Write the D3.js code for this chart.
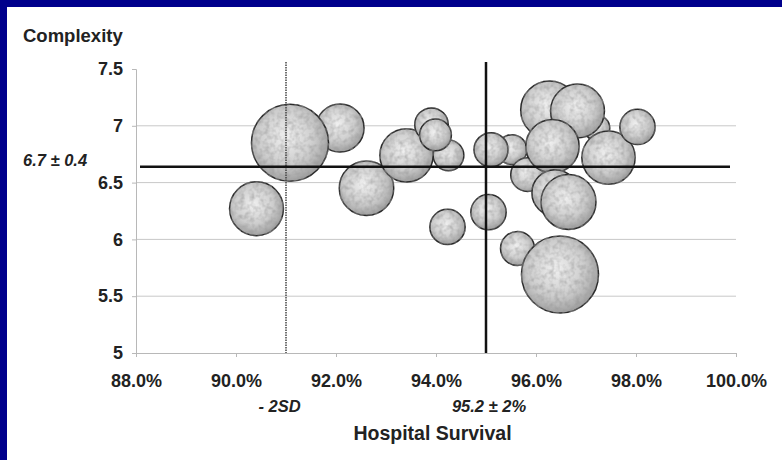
<!DOCTYPE html>
<html lang="en">

<head>
    <meta charset="UTF-8" />
    <title>Complexity vs Hospital Survival</title>
    <script src="https://d3js.org/d3.v7.min.js"></script>
    <style>
        body {
            margin: 0;
            background: #fff;
        }

        svg text {
            font-family: "Liberation Sans", Arial, sans-serif;
            font-weight: bold;
            fill: #222;
        }
    </style>
</head>

<body>

    <script>

        // data (back-to-front drawing order)
        var survival = [92.08, 91.08, 90.41, 92.61, 94.25, 93.41, 93.91, 93.99, 94.23, 95.52, 95.10, 95.05,
            95.63, 96.48, 95.83, 96.27, 97.22, 96.83, 96.33, 97.45, 98.03, 96.38, 96.65];
        var complexity = [6.98, 6.85, 6.27, 6.45, 6.74, 6.74, 7.01, 6.92, 6.11, 6.79, 6.79, 6.24,
            5.92, 5.69, 6.57, 7.14, 6.98, 7.13, 6.82, 6.72, 6.99, 6.41, 6.33];
        var volume = [39, 100, 49, 50, 16, 48, 19, 17, 21, 15, 19.5, 21,
            19.5, 100, 19, 56, 11, 49, 48, 48, 21, 36, 51];

        var xTicks = [88, 90, 92, 94, 96, 98, 100];
        var yTicks = [5, 5.5, 6, 6.5, 7, 7.5];
        var gridValues = [5.5, 6, 6.5, 7];

        var meanSurvival = 95.0;
        var lowSurvival = 91.0;
        var meanComplexity = 6.64;

        var data = survival.map(function (s, i) {
            return { survival: s, complexity: complexity[i], volume: volume[i] };
        });

        // size and layout
        var w = 782;
        var h = 460;

        var svg = d3.select("body")
            .append("svg")
            .attr("width", w)
            .attr("height", h);

        // blue slide frame (left + top)
        svg.append("rect").attr("width", w).attr("height", h).attr("fill", "#fff");
        svg.append("rect").attr("x", 0).attr("y", 0).attr("width", 7).attr("height", h).attr("fill", "#00008c");
        svg.append("rect").attr("x", 0).attr("y", 0).attr("width", w).attr("height", 7).attr("fill", "#00008c");

        var xScale = d3.scaleLinear().domain([88, 100]).range([136, 736]);
        var yScale = d3.scaleLinear().domain([5, 7.5]).range([353, 69]);
        var rScale = d3.scaleSqrt().domain([0, 100]).range([0, 38.5]);

        // bubble shading
        var defs = svg.append("defs");
        var grad = defs.append("radialGradient")
            .attr("id", "ball")
            .attr("cx", "45%").attr("cy", "42%").attr("r", "60%");
        grad.append("stop").attr("offset", "0%").attr("stop-color", "#f0f0f0");
        grad.append("stop").attr("offset", "60%").attr("stop-color", "#cdcdcd");
        grad.append("stop").attr("offset", "100%").attr("stop-color", "#9c9c9c");

        var filt = defs.append("filter").attr("id", "mottle");
        filt.append("feTurbulence")
            .attr("type", "fractalNoise")
            .attr("baseFrequency", "0.2")
            .attr("numOctaves", 2)
            .attr("seed", 4)
            .attr("result", "noise");
        filt.append("feColorMatrix")
            .attr("in", "noise")
            .attr("type", "matrix")
            .attr("values", "0 0 0 0 0.3  0 0 0 0 0.3  0 0 0 0 0.3  1.3 0 0 0 -0.5")
            .attr("result", "spots");
        filt.append("feComposite")
            .attr("in", "spots").attr("in2", "SourceGraphic")
            .attr("operator", "in").attr("result", "clipped");
        var merge = filt.append("feMerge");
        merge.append("feMergeNode").attr("in", "SourceGraphic");
        merge.append("feMergeNode").attr("in", "clipped");

        // grid lines
        svg.selectAll(".grid")
            .data(gridValues)
            .enter()
            .append("line")
            .attr("class", "grid")
            .attr("x1", xScale(88))
            .attr("x2", xScale(100))
            .attr("y1", function (d) { return yScale(d); })
            .attr("y2", function (d) { return yScale(d); })
            .attr("stroke", "#c8c8c8")
            .attr("stroke-width", 1);

        // axes
        var xAxis = svg.append("g")
            .attr("transform", "translate(0," + yScale(5) + ")")
            .call(d3.axisBottom(xScale)
                .tickValues(xTicks)
                .tickSize(4)
                .tickPadding(17)
                .tickFormat(function (d) { return d.toFixed(1) + "%"; }));

        var yAxis = svg.append("g")
            .attr("transform", "translate(" + xScale(88) + ",0)")
            .call(d3.axisLeft(yScale)
                .tickValues(yTicks)
                .tickSize(4)
                .tickPadding(9)
                .tickFormat(function (d) { return String(d); }));

        [xAxis, yAxis].forEach(function (g) {
            g.select(".domain").attr("stroke", "#b8b8b8");
            g.selectAll(".tick line").attr("stroke", "#b8b8b8");
            g.selectAll(".tick text")
                .attr("fill", "#222")
                .style("font-size", "18px")
                .style("font-weight", "bold");
        });

        // bubbles
        svg.selectAll(".bubble")
            .data(data)
            .enter()
            .append("circle")
            .attr("class", "bubble")
            .attr("cx", function (d) { return xScale(d.survival); })
            .attr("cy", function (d) { return yScale(d.complexity); })
            .attr("r", function (d) { return rScale(d.volume); })
            .attr("fill", "url(#ball)")
            .attr("filter", "url(#mottle)")
            .attr("stroke", "#2c2c2c")
            .attr("stroke-width", 1.5);

        // reference lines
        svg.append("line")
            .attr("x1", xScale(lowSurvival)).attr("x2", xScale(lowSurvival))
            .attr("y1", 62).attr("y2", yScale(5))
            .attr("stroke", "#444")
            .attr("stroke-width", 1.5)
            .attr("stroke-dasharray", "1.5,1");

        svg.append("line")
            .attr("x1", xScale(meanSurvival)).attr("x2", xScale(meanSurvival))
            .attr("y1", 62).attr("y2", yScale(5))
            .attr("stroke", "#111")
            .attr("stroke-width", 2.5);

        svg.append("line")
            .attr("x1", 140).attr("x2", 730)
            .attr("y1", yScale(meanComplexity)).attr("y2", yScale(meanComplexity))
            .attr("stroke", "#111")
            .attr("stroke-width", 2.5);

        // titles and annotations
        svg.append("text")
            .attr("x", 23)
            .attr("y", 42)
            .style("font-size", "18.5px")
            .text("Complexity");

        svg.append("text")
            .attr("x", 23)
            .attr("y", yScale(meanComplexity) - 1)
            .style("font-size", "16.5px")
            .style("font-style", "italic")
            .text("6.7 \u00b1 0.4");

        svg.append("text")
            .attr("x", xScale(lowSurvival) - 6.5)
            .attr("y", 412)
            .attr("text-anchor", "middle")
            .style("font-size", "16.5px")
            .style("font-style", "italic")
            .text("- 2SD");

        svg.append("text")
            .attr("x", xScale(meanSurvival) + 3)
            .attr("y", 412)
            .attr("text-anchor", "middle")
            .style("font-size", "16.5px")
            .style("font-style", "italic")
            .text("95.2 \u00b1 2%");

        svg.append("text")
            .attr("x", 432.5)
            .attr("y", 440)
            .attr("text-anchor", "middle")
            .style("font-size", "19.5px")
            .text("Hospital Survival");

    </script>

</body>

</html>
